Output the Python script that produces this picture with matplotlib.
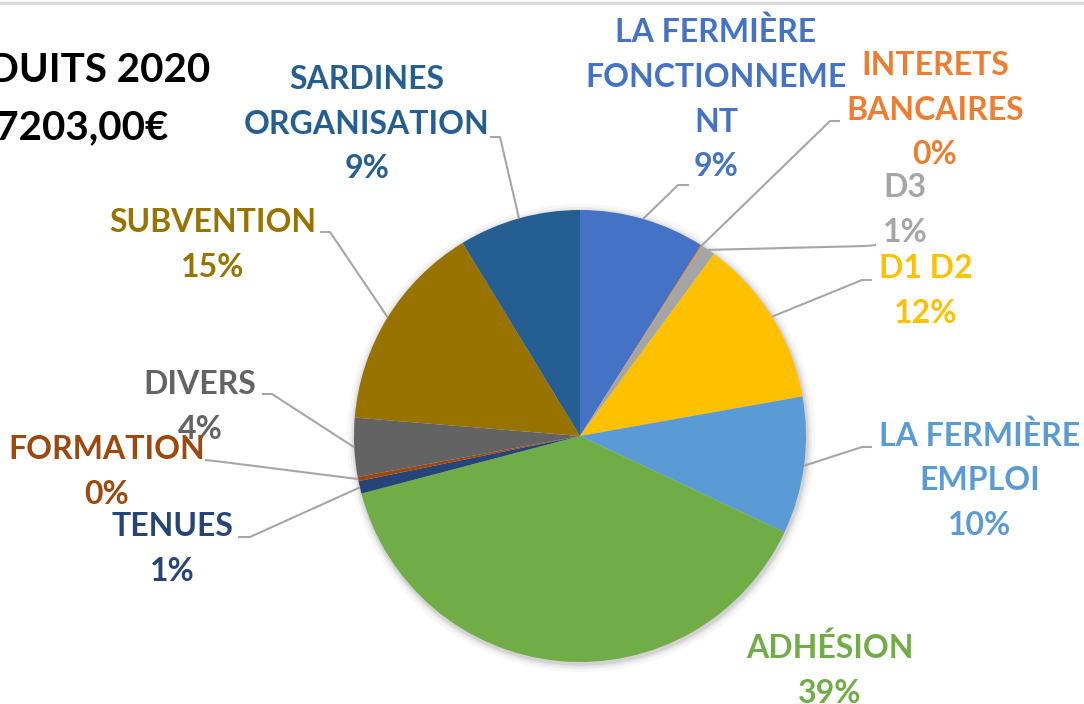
import numpy as np
import matplotlib
matplotlib.use("Agg")
import matplotlib.pyplot as plt
from matplotlib.patches import Circle
from matplotlib.lines import Line2D

# === Data ===
categories = ["LA FERMIÈRE\nFONCTIONNEME\nNT", "INTERETS\nBANCAIRES", "D3", "D1 D2",
              "LA FERMIÈRE\nEMPLOI", "ADHÉSION", "TENUES", "FORMATION", "DIVERS",
              "SUBVENTION", "SARDINES\nORGANISATION"]
values = [9.0, 0.1, 1.0, 12.1, 9.8, 38.9, 0.9, 0.3, 4.2, 15.0, 8.7]
colors = ["#4472C4", "#ED7D31", "#A5A5A5", "#FFC000", "#5B9BD5", "#70AD47",
          "#264478", "#9E480E", "#636363", "#997300", "#255E91"]
title_lines = ["PRODUITS 2020", "TOTAL : 17203,00€"]

W, H = 1084, 704
FONT = ["Lato", "DejaVu Sans"]

# label block centres and leader start/elbow, in pixel coords (top-left origin)
label_pos = [(716, 99), (935, 110), (905, 210), (926, 291), (980, 480), (830, 670),
             (172, 549), (107, 472), (200, 407), (213, 245), (367, 124)]
leaders = [((689, 185), (678, 185)), ((840, 121), (830, 121)), ((876, 245), (866, 246)),
           ((872, 280), (862, 280)), ((872, 447), (862, 447)), None,
           ((238, 537), (250, 537)), ((205, 460), (215, 461)), ((262, 394), (272, 394)),
           ((320, 232), (330, 232)), ((490, 137), (500, 137))]

cx, cy, r = 580, 436, 226


def py(y):
    return H - y


fig = plt.figure(figsize=(W / 100, H / 100), dpi=100)
ax = fig.add_axes([0, 0, 1, 1])

# soft shadow behind the pie
for k, a in [(8, 0.03), (5, 0.04), (3, 0.05), (1.5, 0.06)]:
    ax.add_patch(Circle((cx + 1, py(cy) - 2), r + k, color="black", alpha=a, lw=0, zorder=1))

wedges, _ = ax.pie(values, colors=colors, startangle=90, counterclock=False,
                   center=(cx, py(cy)), radius=r, frame=True,
                   wedgeprops=dict(linewidth=0, zorder=2))
ax.set_xlim(0, W)
ax.set_ylim(0, H)
ax.set_aspect("equal")
ax.axis("off")

# === Labels and leader lines ===
total = sum(values)
order = list(range(len(categories)))
order.remove(7)
order.append(7)  # FORMATION drawn on top of DIVERS
for i in order:
    w = wedges[i]
    mid = np.deg2rad((w.theta1 + w.theta2) / 2)
    ex, ey = cx + r * np.cos(mid), py(cy) + r * np.sin(mid)
    if leaders[i] is not None:
        (sx, sy), (bx, by) = leaders[i]
        ax.plot([sx, bx, ex], [py(sy), py(by), ey], color="#A6A6A6", lw=1.5,
                zorder=3, solid_capstyle="butt")
    pct = f"{round(values[i] / total * 100)}%"
    lx, ly = label_pos[i]
    ax.text(lx, py(ly), categories[i] + "\n" + pct, ha="center", va="center",
            multialignment="center", color=colors[i], fontsize=23,
            fontweight="bold", family=FONT, linespacing=1.65, zorder=4)

# title, cut off at the left edge as in the screenshot
ax.text(210, py(70), title_lines[0], ha="right", va="center", fontsize=29,
        fontweight="bold", family=FONT, color="black")
ax.text(168, py(128), title_lines[1], ha="right", va="center", fontsize=29,
        fontweight="bold", family=FONT, color="black")

# thin frame line at the top
fig.add_artist(Line2D([0, 1], [1 - 2.5 / H, 1 - 2.5 / H], color="#D9D9D9", lw=2.5))

fig.savefig("out.png", dpi=100)
